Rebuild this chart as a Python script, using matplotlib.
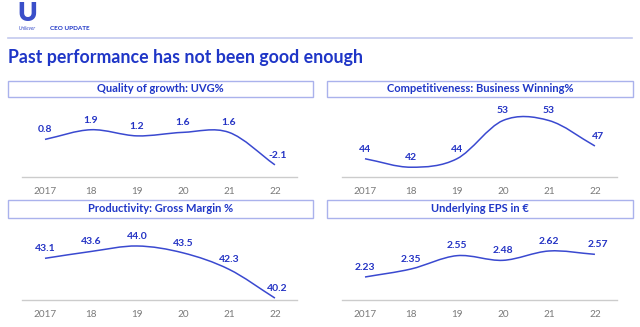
"""Four-panel Unilever CEO update chart: past performance."""

import matplotlib

matplotlib.use("Agg")
import matplotlib.pyplot as plt
import numpy as np
from matplotlib.patches import PathPatch, Rectangle
from matplotlib.path import Path

plt.rcParams["font.family"] = ["Lato", "DejaVu Sans"]

YEARS = ["2017", "18", "19", "20", "21", "22"]

UVG = [0.8, 1.9, 1.2, 1.6, 1.6, -2.1]
WINNING = [44, 42, 44, 53, 53, 47]
GROSS_MARGIN = [43.1, 43.6, 44.0, 43.5, 42.3, 40.2]
EPS = [2.23, 2.35, 2.55, 2.48, 2.62, 2.57]

PANEL_TITLES = [
    "Quality of growth: UVG%",
    "Competitiveness: Business Winning%",
    "Productivity: Gross Margin %",
    "Underlying EPS in \u20ac",
]
PANEL_VALUES = [UVG, WINNING, GROSS_MARGIN, EPS]
PANEL_FORMATS = ["{:.1f}", "{:.0f}", "{:.1f}", "{:.2f}"]
PANEL_YLIMS = [(-3.48, 5.17), (39.7, 57.6), (40.06, 45.75), (1.885, 3.055)]

TITLE_BLUE = "#1f36c7"
LINE_BLUE = "#3a49d0"
LABEL_BLUE = "#2433c4"
BOX_EDGE = "#aab2ec"
RULE_COLOUR = "#c4c9ef"
BASE_COLOUR = "#cccccc"
TICK_COLOUR = "#7a7a7a"

W, H = 640, 327


def fx(px):
    return px / W


def fy(py):
    return 1 - py / H


def smooth_path(xs, ys):
    """Catmull-Rom style cubic Bezier path through the points."""
    xs = np.asarray(xs, dtype=float)
    ys = np.asarray(ys, dtype=float)
    n = len(xs)
    tangents = np.zeros(n)
    for i in range(n):
        if i == 0:
            tangents[i] = (ys[1] - ys[0]) / (xs[1] - xs[0])
        elif i == n - 1:
            tangents[i] = (ys[-1] - ys[-2]) / (xs[-1] - xs[-2])
        else:
            tangents[i] = (ys[i + 1] - ys[i - 1]) / (xs[i + 1] - xs[i - 1])
    verts = [(xs[0], ys[0])]
    codes = [Path.MOVETO]
    for i in range(n - 1):
        dx = (xs[i + 1] - xs[i]) / 3
        verts += [
            (xs[i] + dx, ys[i] + tangents[i] * dx),
            (xs[i + 1] - dx, ys[i + 1] - tangents[i + 1] * dx),
            (xs[i + 1], ys[i + 1]),
        ]
        codes += [Path.CURVE4, Path.CURVE4, Path.CURVE4]
    return Path(verts, codes)


fig = plt.figure(figsize=(6.4, 3.27), dpi=100, facecolor="white")

# header
fig.text(fx(27), fy(13), "U", fontsize=19, fontweight="heavy", color="#3a4fc9",
         ha="center", va="center")
fig.text(fx(27), fy(28), "Unilever", fontsize=3.6, style="italic", color="#3a4fc9",
         ha="center", va="center")
fig.text(fx(50), fy(28), "CEO UPDATE", fontsize=4.6, fontweight="bold", color=TITLE_BLUE,
         ha="left", va="center")
fig.add_artist(plt.Line2D([fx(8), fx(632)], [fy(38), fy(38)], color=RULE_COLOUR, lw=1.2))
fig.text(fx(8), fy(57), "Past performance has not been good enough", fontsize=12.8,
         fontweight="bold", color=TITLE_BLUE, ha="left", va="center")

# panel geometry in pixels: (box left, box right, box top, box bottom, axis left, axis right, baseline)
panels = [
    (8, 313, 81, 97, 22, 297, 177),
    (327, 633, 81, 97, 342, 617, 177),
    (8, 313, 200, 218, 22, 297, 300),
    (327, 633, 200, 218, 342, 617, 300),
]

x = np.arange(len(YEARS))
for (bl, br, bt, bb, al, ar, base), title, values, fmt, ylim in zip(
    panels, PANEL_TITLES, PANEL_VALUES, PANEL_FORMATS, PANEL_YLIMS
):
    fig.add_artist(Rectangle((fx(bl), fy(bb)), fx(br - bl), (bb - bt) / H,
                             transform=fig.transFigure, facecolor="white",
                             edgecolor=BOX_EDGE, lw=1.0))
    fig.text(fx((bl + br) / 2), fy((bt + bb) / 2), title, fontsize=8, fontweight="bold",
             color=TITLE_BLUE, ha="center", va="center")

    top = bb + 4
    ax = fig.add_axes([fx(al), fy(base), fx(ar - al), (base - top) / H])
    ax.set_xlim(-0.5, 5.48)
    ax.set_ylim(*ylim)
    ax.add_patch(PathPatch(smooth_path(x, values), facecolor="none",
                           edgecolor=LINE_BLUE, lw=1.1))
    for xi, v in zip(x, values):
        dx = 2 if xi == x[-1] else 0
        ax.annotate(fmt.format(v), (xi, v), xytext=(dx, 7), textcoords="offset points",
                    ha="center", va="center", fontsize=7.5, fontweight="bold",
                    color=LABEL_BLUE)
    ax.set_xticks(x, YEARS)
    ax.tick_params(axis="x", length=0, pad=7, labelsize=7.2, labelcolor=TICK_COLOUR)
    ax.set_yticks([])
    for side in ("top", "left", "right"):
        ax.spines[side].set_visible(False)
    ax.spines["bottom"].set_color(BASE_COLOUR)
    ax.spines["bottom"].set_linewidth(1.0)
    ax.patch.set_alpha(0)

fig.savefig("out.png", dpi=100, facecolor="white")
